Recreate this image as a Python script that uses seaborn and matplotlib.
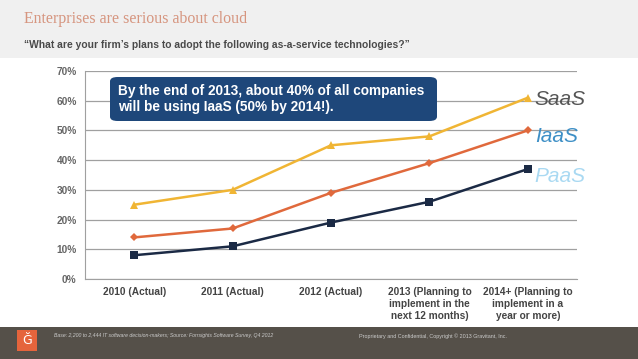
import pandas as pd
import numpy as np
import matplotlib.pyplot as plt
import seaborn as sns
from matplotlib import font_manager
from matplotlib.patches import FancyBboxPatch, Rectangle

# data
periods = ['2010 (Actual)', '2011 (Actual)', '2012 (Actual)',
           '2013 (Planning to\nimplement in the\nnext 12 months)',
           '2014+ (Planning to\nimplement in a\nyear or more)']
saas = [25, 30, 45, 48, 61]
iaas = [14, 17, 29, 39, 50]
paas = [8, 11, 19, 26, 37]
services = ['SaaS', 'IaaS', 'PaaS']

df = pd.DataFrame({
    'pos': list(range(len(periods))) * 3,
    'value': saas + iaas + paas,
    'service': [s for s in services for _ in periods],
})

line_colors = {'SaaS': '#f0b534', 'IaaS': '#e0693c', 'PaaS': '#1b2a45'}
label_colors = {'SaaS': '#555555', 'IaaS': '#3d8fc6', 'PaaS': '#a9d9f2'}
label_shift = {'SaaS': -0.5, 'IaaS': -2.0, 'PaaS': -2.4}
markers = {'SaaS': '^', 'IaaS': 'D', 'PaaS': 's'}
msize = {'SaaS': 6, 'IaaS': 4.5, 'PaaS': 6}

sns.set_style('white')

names = {f.name for f in font_manager.fontManager.ttflist}
if 'Liberation Sans Narrow' in names:
    narrow, k = 'Liberation Sans Narrow', 1.0
else:
    narrow, k = 'Liberation Sans', 0.85

fig = plt.figure(figsize=(6.38, 3.59), dpi=100)
fig.patch.set_facecolor('white')

# header band and footer band
fig.patches.append(Rectangle((0, 1 - 58 / 359), 1, 58 / 359, transform=fig.transFigure,
                             facecolor='#f0f0f0', edgecolor='none', zorder=0))
fig.patches.append(Rectangle((0, 0), 1, 32 / 359, transform=fig.transFigure,
                             facecolor='#555049', edgecolor='none', zorder=0))
fig.patches.append(Rectangle((17 / 638, 8 / 359), 20 / 638, 21 / 359, transform=fig.transFigure,
                             facecolor='#e5643c', edgecolor='none', zorder=1))
fig.text(27 / 638, 18 / 359, 'Ğ', color='white', fontsize=9, ha='center', va='center')

fig.text(24 / 638, 1 - 19 / 359, 'Enterprises are serious about cloud', color='#d6957f',
         fontsize=11.4, family='Liberation Serif', va='center')
fig.text(24 / 638, 1 - 45 / 359,
         '\u201cWhat are your firm\u2019s plans to adopt the following as-a-service technologies?\u201d',
         color='#4a4a4a', fontsize=8.7 * k, fontweight='bold', family=narrow, va='center')

fig.text(54 / 638, 23 / 359,
         'Base: 2,200 to 2,444 IT software decision-makers; Source: Forrsights Software Survey, Q4 2012',
         color='#cccccc', fontsize=3.7, style='italic', va='center', family=narrow)
fig.text(507 / 638, 23 / 359,
         'Proprietary and Confidential, Copyright \u00a9 2013 Gravitant, Inc.',
         color='#cccccc', fontsize=3.9, ha='right', va='center', family=narrow)

ax = fig.add_axes([85 / 638, 1 - 279 / 359, 492 / 638, 208 / 359])
ax.set_facecolor('white')

for s in services:
    sub = df[df['service'] == s]
    sns.lineplot(data=sub, x='pos', y='value', color=line_colors[s], marker=markers[s],
                 markersize=msize[s], markeredgewidth=0, linewidth=1.8, ax=ax, zorder=3)
    last = sub['value'].iloc[-1]
    ax.text(4.07, last + label_shift[s], s, color=label_colors[s], fontsize=15, style='italic',
            va='center', ha='left', family='Liberation Sans')

ax.set_xlim(-0.5, 4.5)
ax.set_ylim(0, 70)
ax.set_yticks(range(0, 71, 10))
ax.set_yticklabels([f'{v}%' for v in range(0, 71, 10)])
ax.set_xticks(range(len(periods)))
ax.set_xticklabels(periods, linespacing=1.2)
ax.tick_params(axis='y', labelsize=8.6 * k, labelcolor='#666666', length=0, pad=6)
ax.tick_params(axis='x', labelsize=8.6 * k, labelcolor='#444444', length=0, pad=6)
for lab in ax.get_xticklabels() + ax.get_yticklabels():
    lab.set_fontweight('bold')
    lab.set_family(narrow)
ax.yaxis.grid(True, color='#a0a0a0', linewidth=0.9)
ax.set_axisbelow(True)
ax.set_xlabel('')
ax.set_ylabel('')
if ax.get_legend():
    ax.get_legend().remove()
for side in ['top', 'right']:
    ax.spines[side].set_visible(False)
ax.spines['left'].set_color('#a0a0a0')
ax.spines['bottom'].set_color('#a0a0a0')

# callout box
box = FancyBboxPatch((110 / 638, 1 - 121 / 359), 327 / 638, 44 / 359,
                     boxstyle='round,pad=0,rounding_size=0.012', transform=fig.transFigure,
                     facecolor='#1e477a', edgecolor='none', zorder=5)
fig.patches.append(box)
fig.text(118 / 638, 1 - 99 / 359,
         'By the end of 2013, about 40% of all companies\nwill be using IaaS (50% by 2014!).',
         color='white', fontsize=9.8, fontweight='bold', va='center', ha='left',
         family='Liberation Sans', linespacing=1.1, zorder=6)

fig.savefig('out.png', dpi=100, facecolor=fig.get_facecolor())
